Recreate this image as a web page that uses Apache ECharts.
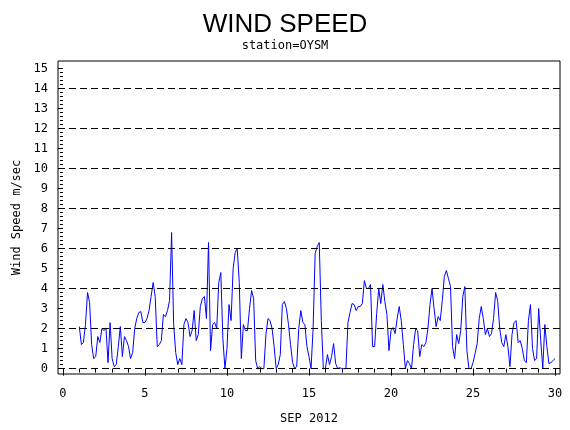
<!DOCTYPE html>
<html>
<head>
<meta charset="utf-8">
<script src="https://cdn.jsdelivr.net/npm/echarts@6/dist/echarts.min.js"></script>
<style>
    html, body { margin: 0; padding: 0; background: #fff; }
    #main { width: 570px; height: 430px; }
</style>
</head>
<body>
<div id="main"></div>
<script>
    // wind speed (m/s), sampled every 3 hours from day 1 of the month
    var dayStart = 1;
    var stepDays = 0.125;
    var speeds = [
        2.1, 1.2, 1.3, 2.2, 3.8, 3.3, 1.2, 0.5,
        0.6, 1.6, 1.3, 2.0, 1.9, 2.0, 0.3, 2.3,
        0.5, 0.1, 0.2, 1.1, 2.1, 0.6, 1.6, 1.4,
        1.1, 0.5, 0.8, 2.0, 2.5, 2.8, 2.85, 2.3,
        2.3, 2.5, 2.9, 3.6, 4.3, 3.6, 1.1, 1.2,
        1.4, 2.7, 2.6, 2.9, 3.4, 6.8, 2.2, 0.8,
        0.2, 0.5, 0.2, 2.2, 2.5, 2.3, 1.6, 1.9,
        2.9, 1.4, 1.7, 3.1, 3.5, 3.6, 2.5, 6.3,
        0.9, 2.2, 2.3, 2.0, 4.3, 4.8, 1.5, 0.0,
        1.0, 3.2, 2.4, 5.0, 5.8, 6.0, 4.3, 0.5,
        2.2, 1.9, 1.9, 3.0, 3.9, 3.5, 0.4, 0.0,
        0.1, 0.0, 0.0, 1.7, 2.5, 2.4, 2.0, 1.1,
        0.0, 0.2, 0.7, 3.2, 3.35, 3.0, 2.2, 1.2,
        0.3, 0.0, 0.1, 2.0, 2.9, 2.3, 2.2, 1.1,
        0.6, 0.0, 2.0, 5.75, 6.1, 6.3, 2.4, 0.0,
        0.0, 0.7, 0.2, 0.6, 1.25, 0.25, 0.0, 0.05,
        0.0, 0.0, 0.0, 2.3, 2.8, 3.25, 3.2, 2.9,
        3.1, 3.1, 3.25, 4.4, 4.0, 4.0, 4.2, 1.1,
        1.1, 2.75, 4.0, 3.25, 4.2, 3.35, 2.7, 0.9,
        1.9, 2.05, 1.75, 2.5, 3.1, 2.4, 1.2, 0.0,
        0.4, 0.25, 0.0, 1.2, 2.0, 1.9, 0.6, 1.2,
        1.1, 1.3, 2.0, 3.2, 4.0, 3.0, 2.1, 2.6,
        2.4, 3.4, 4.6, 4.9, 4.5, 4.1, 1.1, 0.5,
        1.7, 1.25, 1.9, 3.6, 4.1, 0.9, 0.0, 0.0,
        0.3, 0.75, 1.25, 2.5, 3.1, 2.5, 1.7, 2.0,
        1.6, 1.75, 2.5, 3.8, 3.4, 2.0, 1.3, 1.1,
        1.7, 1.1, 0.1, 1.7, 2.3, 2.4, 1.3, 1.4,
        1.0, 0.4, 0.3, 2.4, 3.2, 1.0, 0.4, 0.5,
        3.0, 1.4, 0.0, 2.2, 1.1, 0.25, 0.3, 0.4,
        0.5
    ];
    var xLabels = [0, 5, 10, 15, 20, 25, 30];
    var yLabels = [0, 1, 2, 3, 4, 5, 6, 7, 8, 9, 10, 11, 12, 13, 14, 15];
    var refLevels = [0, 2, 4, 6, 8, 10, 12, 14];

    var xMinor = [];
    for (var d = 0; d <= 30; d++) xMinor.push(d);
    var yMinor = [];
    for (var k = 0; k <= 75; k++) yMinor.push(k / 5);

    var points = speeds.map(function (v, i) {
        return [dayStart + i * stepDays, v];
    });

    var font = 'DejaVu Sans Mono';
    var chart = echarts.init(document.getElementById('main'));
    chart.setOption({
        animation: false,
        title: {
            text: 'WIND SPEED',
            subtext: 'station=OYSM',
            left: 'center',
            top: 7,
            itemGap: 2,
            textStyle: {fontFamily: 'Liberation Sans', fontSize: 26, fontWeight: 'normal', color: '#000'},
            subtextStyle: {fontFamily: font, fontSize: 12, color: '#000'}
        },
        grid: {
            left: 58, right: 10, top: 61, bottom: 56,
            show: true, borderColor: '#000', borderWidth: 1, backgroundColor: 'transparent'
        },
        xAxis: [
            {
                type: 'value', min: -0.3, max: 30.3,
                name: 'SEP 2012', nameLocation: 'middle', nameGap: 39,
                nameTextStyle: {fontFamily: font, fontSize: 12, color: '#000'},
                axisLine: {show: false},
                splitLine: {show: false},
                axisTick: {show: true, length: 7, customValues: xLabels, lineStyle: {color: '#000'}},
                axisLabel: {customValues: xLabels, margin: 14, fontFamily: font, fontSize: 12, color: '#000'}
            },
            {
                type: 'value', min: -0.3, max: 30.3, position: 'bottom',
                axisLine: {show: false},
                splitLine: {show: false},
                axisLabel: {show: false},
                axisTick: {show: true, length: 4, customValues: xMinor, lineStyle: {color: '#000'}}
            }
        ],
        yAxis: [
            {
                type: 'value', min: -0.27, max: 15.37,
                name: 'Wind Speed m/sec', nameLocation: 'middle', nameGap: 33,
                nameTextStyle: {fontFamily: font, fontSize: 12, color: '#000'},
                axisLine: {show: false},
                splitLine: {show: false},
                axisTick: {show: true, length: 5, customValues: yLabels, lineStyle: {color: '#000'}},
                axisLabel: {customValues: yLabels, margin: 10, fontFamily: font, fontSize: 12, color: '#000'}
            },
            {
                type: 'value', min: -0.27, max: 15.37, position: 'left',
                axisLine: {show: false},
                splitLine: {show: false},
                axisLabel: {show: false},
                axisTick: {show: true, length: 3, customValues: yMinor, lineStyle: {color: '#000'}}
            }
        ],
        series: [
            {
                type: 'line',
                data: [],
                z: 1,
                silent: true,
                markLine: {
                    silent: true,
                    symbol: ['none', 'none'],
                    label: {show: false},
                    lineStyle: {color: '#000', type: [7, 4], width: 1},
                    data: refLevels.map(function (v) { return {yAxis: v}; })
                }
            },
            {
                name: 'Wind Speed',
                type: 'line',
                z: 2,
                data: points,
                showSymbol: false,
                symbol: 'none',
                lineStyle: {color: '#0000ff', width: 1}
            }
        ]
    });
</script>
</body>
</html>
